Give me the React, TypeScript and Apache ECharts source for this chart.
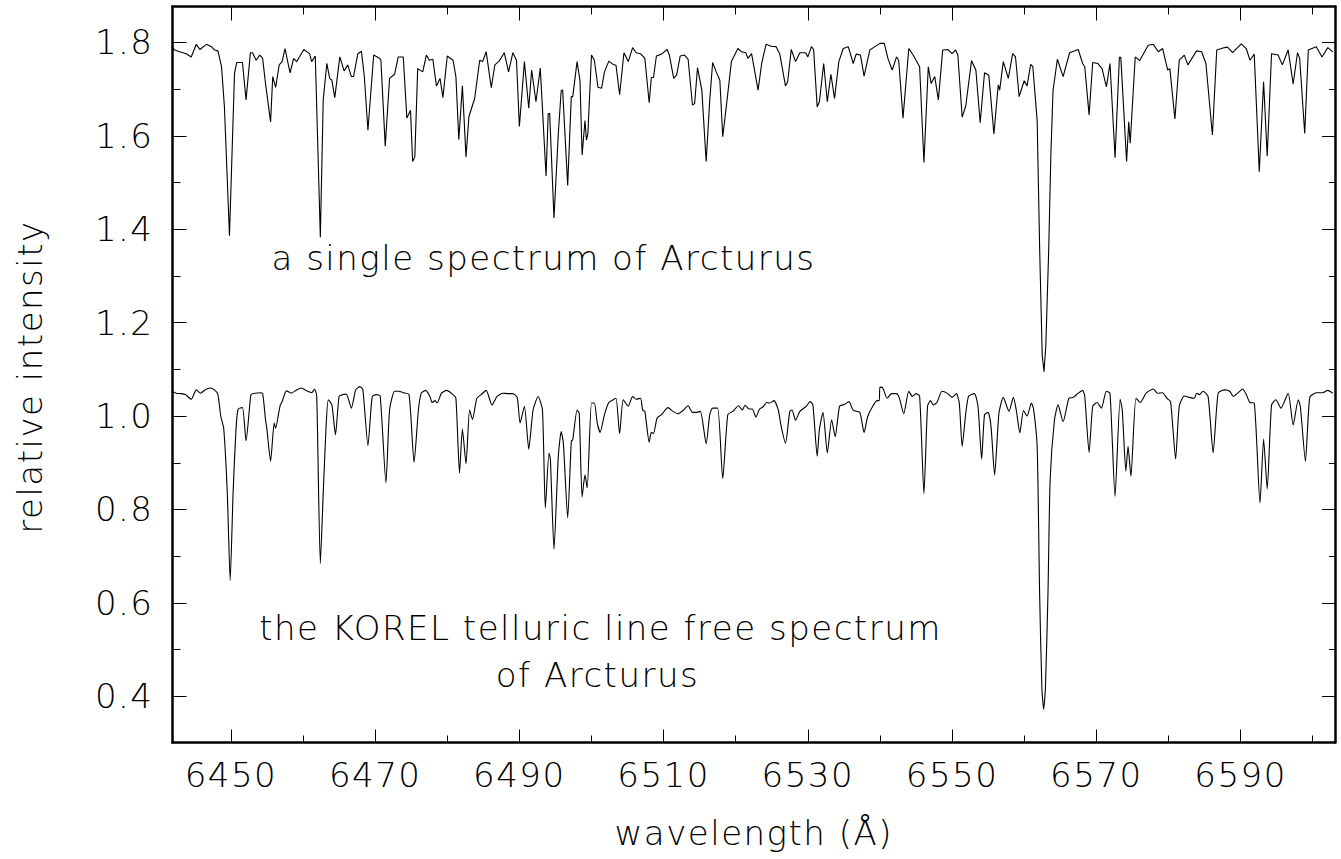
import React, { useEffect, useRef } from "react";
import * as echarts from "echarts";

// ---- data ----
const singleSpectrum: [number, number][] = [
  [6441.8, 1.791], [6442.2, 1.784], [6442.9, 1.78], [6443.8, 1.776], [6444.5, 1.769], [6445.2, 1.796],
  [6445.7, 1.785], [6446.6, 1.796], [6447.3, 1.791], [6447.7, 1.784], [6448.2, 1.782], [6448.7, 1.748],
  [6449.1, 1.662], [6449.8, 1.386], [6450.5, 1.734], [6450.8, 1.757], [6451.6, 1.757], [6452.1, 1.677],
  [6452.7, 1.778], [6453.0, 1.778], [6453.5, 1.762], [6454.0, 1.773], [6454.4, 1.766], [6454.8, 1.712],
  [6455.5, 1.63], [6455.8, 1.727], [6456.2, 1.704], [6456.7, 1.752], [6457.1, 1.759], [6457.5, 1.787],
  [6458.2, 1.735], [6458.7, 1.766], [6459.1, 1.759], [6459.5, 1.769], [6460.1, 1.785], [6460.9, 1.776],
  [6461.2, 1.759], [6461.7, 1.771], [6462.4, 1.383], [6462.8, 1.677], [6463.3, 1.755], [6463.7, 1.723],
  [6464.0, 1.719], [6464.4, 1.682], [6465.1, 1.769], [6465.7, 1.739], [6466.2, 1.752], [6466.7, 1.727],
  [6467.0, 1.727], [6467.6, 1.776], [6468.1, 1.781], [6468.5, 1.727], [6469.0, 1.612], [6469.8, 1.773],
  [6470.6, 1.766], [6470.8, 1.762], [6471.4, 1.578], [6472.0, 1.723], [6472.7, 1.732], [6473.2, 1.769],
  [6473.9, 1.769], [6474.4, 1.638], [6474.9, 1.655], [6475.2, 1.545], [6475.5, 1.555], [6475.9, 1.744],
  [6476.6, 1.737], [6477.1, 1.773], [6477.5, 1.762], [6478.0, 1.764], [6478.5, 1.707], [6479.0, 1.723],
  [6479.4, 1.682], [6480.0, 1.771], [6480.8, 1.762], [6481.2, 1.727], [6481.6, 1.592], [6482.1, 1.707],
  [6482.6, 1.555], [6483.0, 1.641], [6483.8, 1.68], [6484.5, 1.762], [6484.9, 1.759], [6485.4, 1.78],
  [6486.1, 1.703], [6486.6, 1.752], [6487.2, 1.76], [6487.9, 1.778], [6488.5, 1.737], [6489.1, 1.778],
  [6489.6, 1.762], [6490.0, 1.62], [6490.7, 1.759], [6491.3, 1.659], [6491.7, 1.741], [6492.3, 1.673],
  [6492.9, 1.745], [6493.7, 1.514], [6494.0, 1.648], [6494.2, 1.648], [6494.8, 1.424], [6495.4, 1.605],
  [6495.8, 1.697], [6496.0, 1.698], [6496.7, 1.494], [6497.2, 1.684], [6497.4, 1.684], [6498.0, 1.759],
  [6498.4, 1.719], [6498.7, 1.559], [6499.1, 1.633], [6499.3, 1.591], [6499.5, 1.605], [6500.0, 1.773],
  [6500.4, 1.762], [6500.9, 1.704], [6501.4, 1.702], [6501.8, 1.737], [6502.4, 1.76], [6503.0, 1.753],
  [6503.4, 1.751], [6503.9, 1.688], [6504.5, 1.778], [6505.1, 1.759], [6505.7, 1.789], [6506.2, 1.778],
  [6506.8, 1.776], [6507.4, 1.766], [6508.0, 1.671], [6508.3, 1.725], [6508.6, 1.725], [6509.0, 1.771],
  [6509.7, 1.775], [6510.5, 1.785], [6510.8, 1.773], [6511.4, 1.723], [6511.8, 1.73], [6512.3, 1.771],
  [6512.9, 1.773], [6513.4, 1.764], [6514.0, 1.666], [6514.3, 1.669], [6514.7, 1.746], [6515.3, 1.698],
  [6515.9, 1.545], [6516.4, 1.677], [6516.8, 1.757], [6517.3, 1.737], [6517.8, 1.719], [6518.2, 1.598],
  [6518.8, 1.677], [6519.4, 1.759], [6520.3, 1.787], [6520.8, 1.78], [6521.4, 1.778], [6521.7, 1.766],
  [6522.2, 1.776], [6523.1, 1.698], [6523.6, 1.755], [6524.2, 1.796], [6524.9, 1.792], [6525.6, 1.791],
  [6526.1, 1.776], [6526.9, 1.707], [6527.2, 1.716], [6527.7, 1.785], [6528.3, 1.759], [6528.9, 1.778],
  [6529.7, 1.778], [6530.0, 1.769], [6530.5, 1.791], [6530.8, 1.785], [6531.3, 1.662], [6531.6, 1.673],
  [6532.2, 1.755], [6532.7, 1.673], [6533.2, 1.732], [6533.7, 1.68], [6534.3, 1.759], [6534.9, 1.787],
  [6535.6, 1.791], [6536.3, 1.755], [6536.7, 1.775], [6537.3, 1.773], [6537.8, 1.728], [6538.6, 1.784],
  [6539.3, 1.791], [6540.0, 1.798], [6540.6, 1.798], [6541.1, 1.766], [6541.7, 1.741], [6542.3, 1.769],
  [6542.6, 1.762], [6543.2, 1.638], [6544.0, 1.787], [6544.6, 1.773], [6545.5, 1.748], [6546.1, 1.543],
  [6546.7, 1.748], [6547.1, 1.712], [6547.6, 1.727], [6548.1, 1.677], [6548.7, 1.784], [6549.4, 1.785],
  [6550.0, 1.776], [6550.5, 1.784], [6550.8, 1.773], [6551.4, 1.64], [6551.9, 1.664], [6552.7, 1.761],
  [6553.3, 1.741], [6553.9, 1.628], [6554.5, 1.735], [6555.1, 1.73], [6555.8, 1.604], [6556.4, 1.709],
  [6556.6, 1.698], [6557.1, 1.759], [6557.8, 1.723], [6558.4, 1.776], [6558.8, 1.769], [6559.3, 1.684],
  [6560.0, 1.718], [6560.4, 1.707], [6560.9, 1.753], [6561.2, 1.748], [6561.8, 1.632], [6562.15, 1.356],
  [6562.5, 1.13], [6562.75, 1.095], [6563.0, 1.15], [6563.4, 1.356], [6563.7, 1.56], [6564.0, 1.697],
  [6564.6, 1.764], [6565.4, 1.727], [6566.3, 1.778], [6567.5, 1.785], [6568.1, 1.755], [6568.4, 1.748],
  [6569.0, 1.645], [6569.5, 1.757], [6570.2, 1.755], [6570.8, 1.744], [6571.4, 1.705], [6571.9, 1.755],
  [6572.6, 1.553], [6573.2, 1.768], [6573.4, 1.768], [6574.2, 1.545], [6574.5, 1.63], [6574.7, 1.584],
  [6575.4, 1.769], [6576.0, 1.761], [6577.2, 1.794], [6577.9, 1.796], [6578.6, 1.78], [6579.2, 1.787],
  [6579.9, 1.741], [6580.2, 1.744], [6580.9, 1.636], [6581.5, 1.762], [6582.2, 1.773], [6582.7, 1.752],
  [6583.9, 1.782], [6584.6, 1.78], [6585.2, 1.755], [6586.1, 1.602], [6586.7, 1.784], [6587.8, 1.789],
  [6588.2, 1.79], [6588.9, 1.778], [6590.1, 1.797], [6590.8, 1.787], [6591.3, 1.762], [6591.9, 1.775],
  [6592.6, 1.523], [6593.2, 1.716], [6593.7, 1.557], [6594.3, 1.776], [6595.2, 1.773], [6595.8, 1.752],
  [6596.6, 1.784], [6597.3, 1.711], [6597.9, 1.778], [6598.2, 1.766], [6598.9, 1.605], [6599.4, 1.784],
  [6600.5, 1.791], [6601.3, 1.769], [6602.1, 1.789], [6602.8, 1.78],
];

const korelSpectrum: [number, number][] = [
  [6441.8, 1.053], [6442.4, 1.049], [6443.1, 1.048], [6443.7, 1.046], [6444.5, 1.036], [6445.2, 1.056],
  [6445.8, 1.049], [6446.4, 1.056], [6447.1, 1.06], [6447.8, 1.055], [6448.2, 1.046], [6448.6, 0.999],
  [6449.0, 0.974], [6449.5, 0.835], [6449.9, 0.648], [6450.3, 0.835], [6450.7, 0.971], [6451.0, 1.015],
  [6451.6, 1.018], [6452.1, 0.947], [6452.6, 1.021], [6452.8, 1.046], [6453.4, 1.049], [6454.0, 1.05],
  [6454.4, 1.048], [6454.8, 0.992], [6455.0, 0.971], [6455.5, 0.903], [6456.0, 0.985], [6456.2, 0.974],
  [6456.8, 1.021], [6457.1, 1.031], [6457.7, 1.054], [6458.4, 1.049], [6459.1, 1.056], [6459.8, 1.06],
  [6460.5, 1.054], [6461.2, 1.05], [6461.6, 1.058], [6461.9, 1.042], [6462.4, 0.684], [6462.8, 0.835],
  [6463.2, 0.978], [6463.5, 1.035], [6464.0, 1.024], [6464.5, 0.96], [6465.0, 1.042], [6465.5, 1.046],
  [6466.0, 1.047], [6466.7, 1.017], [6467.3, 1.056], [6467.9, 1.063], [6468.3, 1.056], [6469.0, 0.937],
  [6469.6, 1.042], [6470.2, 1.046], [6470.7, 1.043], [6471.5, 0.857], [6472.0, 1.013], [6472.7, 1.053],
  [6473.3, 1.053], [6473.9, 1.05], [6474.7, 1.046], [6475.4, 0.901], [6476.0, 1.013], [6476.4, 1.049],
  [6477.0, 1.055], [6477.6, 1.042], [6477.9, 1.029], [6478.3, 1.033], [6478.6, 1.028], [6479.2, 1.049],
  [6479.9, 1.055], [6480.8, 1.046], [6481.2, 1.038], [6481.7, 0.878], [6482.1, 0.972], [6482.6, 0.898],
  [6483.1, 1.013], [6483.5, 0.993], [6484.1, 1.038], [6484.7, 1.046], [6485.4, 1.055], [6486.2, 1.024],
  [6486.9, 1.042], [6487.7, 1.049], [6488.4, 1.048], [6489.1, 1.048], [6489.7, 1.04], [6490.1, 0.985],
  [6490.7, 1.021], [6491.3, 0.929], [6491.9, 1.013], [6492.6, 1.042], [6493.2, 1.013], [6493.6, 0.803],
  [6494.1, 0.921], [6494.3, 0.907], [6494.8, 0.715], [6495.4, 0.914], [6495.8, 0.967], [6496.1, 0.942],
  [6496.7, 0.782], [6497.2, 0.946], [6497.4, 0.949], [6498.0, 1.013], [6498.3, 1.006], [6498.7, 0.827],
  [6499.1, 0.874], [6499.4, 0.846], [6500.0, 1.028], [6500.4, 1.028], [6500.8, 0.985], [6501.2, 0.965],
  [6501.8, 1.003], [6502.4, 1.029], [6503.0, 1.035], [6503.4, 1.038], [6503.9, 0.962], [6504.4, 1.035],
  [6505.1, 1.021], [6505.7, 1.042], [6506.2, 1.036], [6506.8, 1.038], [6507.1, 1.013], [6507.4, 1.01],
  [6508.0, 0.944], [6508.3, 0.965], [6508.6, 0.963], [6509.1, 0.996], [6509.7, 1.003], [6510.6, 1.018],
  [6511.3, 1.01], [6512.0, 1.005], [6512.7, 1.012], [6513.4, 1.022], [6514.0, 1.008], [6514.6, 1.008],
  [6515.1, 1.01], [6515.9, 0.941], [6516.4, 1.003], [6516.8, 1.017], [6517.5, 1.017], [6518.2, 0.866],
  [6518.9, 1.003], [6519.6, 1.01], [6520.4, 1.022], [6520.9, 1.013], [6521.3, 1.023], [6521.9, 1.015],
  [6522.3, 1.015], [6522.8, 0.998], [6523.3, 1.015], [6523.8, 1.02], [6524.3, 1.029], [6524.7, 1.028],
  [6525.3, 1.033], [6525.9, 1.013], [6526.3, 0.978], [6526.9, 0.942], [6527.5, 1.01], [6527.8, 1.013],
  [6528.3, 0.991], [6528.9, 1.01], [6529.8, 1.021], [6530.3, 1.031], [6530.7, 1.024], [6531.3, 0.914],
  [6531.6, 0.971], [6532.1, 1.008], [6532.7, 0.921], [6533.3, 0.992], [6533.8, 0.956], [6534.4, 1.021],
  [6535.1, 1.025], [6535.7, 1.031], [6536.3, 1.012], [6537.2, 1.008], [6537.8, 0.965], [6538.3, 0.999],
  [6539.0, 1.021], [6539.6, 1.033], [6539.9, 1.033], [6540.0, 1.062], [6540.4, 1.06], [6541.0, 1.038],
  [6541.6, 1.048], [6542.3, 1.048], [6542.7, 1.038], [6543.3, 1.005], [6544.0, 1.053], [6544.5, 1.042],
  [6545.0, 1.048], [6545.5, 1.043], [6546.1, 0.834], [6546.6, 1.021], [6547.0, 1.033], [6547.4, 1.024],
  [6547.9, 1.029], [6548.6, 1.053], [6549.4, 1.048], [6550.0, 1.04], [6550.6, 1.048], [6551.0, 1.028],
  [6551.4, 0.935], [6551.9, 1.006], [6552.3, 1.043], [6553.1, 1.048], [6553.6, 1.02], [6554.1, 0.908],
  [6554.5, 1.003], [6555.0, 1.008], [6555.4, 0.978], [6555.9, 0.874], [6556.5, 1.006], [6557.1, 1.04],
  [6557.9, 1.01], [6558.5, 1.04], [6558.9, 1.013], [6559.4, 0.964], [6559.9, 1.012], [6560.4, 1.0],
  [6561.0, 1.028], [6561.3, 1.015], [6561.8, 0.935], [6562.14, 0.621], [6562.45, 0.42], [6562.7, 0.372],
  [6562.95, 0.42], [6563.3, 0.621], [6563.6, 0.864], [6564.2, 0.992], [6564.7, 1.024], [6565.4, 0.988],
  [6566.2, 1.038], [6566.8, 1.04], [6567.5, 1.049], [6568.1, 1.055], [6568.4, 1.042], [6569.0, 0.922],
  [6569.5, 1.021], [6570.1, 1.029], [6570.7, 1.017], [6571.4, 1.053], [6571.9, 1.049], [6572.6, 0.828],
  [6573.3, 1.036], [6573.6, 1.013], [6574.1, 0.882], [6574.4, 0.935], [6574.8, 0.871], [6575.5, 1.038],
  [6576.1, 1.029], [6576.9, 1.049], [6577.9, 1.058], [6578.5, 1.049], [6579.2, 1.05], [6579.8, 1.038],
  [6580.3, 1.031], [6581.0, 0.908], [6581.5, 1.021], [6582.2, 1.043], [6582.9, 1.04], [6583.6, 1.038],
  [6583.9, 1.049], [6584.3, 1.046], [6584.8, 1.053], [6585.5, 1.042], [6586.2, 0.921], [6586.9, 1.049],
  [6587.8, 1.056], [6588.5, 1.053], [6589.0, 1.042], [6589.6, 1.049], [6590.3, 1.058], [6590.8, 1.046],
  [6591.3, 1.029], [6591.9, 1.028], [6592.7, 0.814], [6593.2, 0.951], [6593.7, 0.844], [6594.3, 1.024],
  [6594.9, 1.035], [6595.6, 1.017], [6596.6, 1.049], [6597.3, 0.981], [6598.0, 1.035], [6598.3, 1.02],
  [6599.0, 0.903], [6599.6, 1.04], [6600.5, 1.05], [6601.4, 1.05], [6602.1, 1.055], [6602.8, 1.049],
];

const majorWavelengthTicks = [6450, 6470, 6490, 6510, 6530, 6550, 6570, 6590];
const minorWavelengthTicks = [6460, 6480, 6500, 6520, 6540, 6560, 6580, 6600];
const majorIntensityTicks = [0.4, 0.6, 0.8, 1.0, 1.2, 1.4, 1.6, 1.8];
const minorIntensityTicks = [0.5, 0.7, 0.9, 1.1, 1.3, 1.5, 1.7];

const wavelengthRange = [6441.9, 6603.1];
const intensityRange = [0.301, 1.877];

const xTitle = "wavelength (Å)";
const yTitle = "relative intensity";
const upperNote = "a single spectrum of Arcturus";
const lowerNoteLine1 = "the KOREL telluric line free spectrum";
const lowerNoteLine2 = "of Arcturus";

const FONT = "'DejaVu Sans', sans-serif";
const FONT_WEIGHT: any = 200;
const FONT_SIZE = 34;
const INK = "#000";

function makeXAxis(position: string, ticks: number[], len: number, line: boolean, labels: boolean) {
  return {
    type: "value",
    position,
    min: wavelengthRange[0],
    max: wavelengthRange[1],
    axisLine: { show: line, onZero: false, lineStyle: { color: INK, width: 2.5 } },
    axisTick: { show: true, inside: true, length: len, customValues: ticks, lineStyle: { color: INK, width: 1 } },
    axisLabel: {
      show: labels,
      customValues: ticks,
      margin: 15,
      color: INK,
      fontSize: FONT_SIZE,
      fontFamily: FONT,
      fontWeight: FONT_WEIGHT,
      formatter: (v: number) => String(Math.round(v)),
    },
    splitLine: { show: false },
  };
}

function makeYAxis(position: string, ticks: number[], len: number, line: boolean, labels: boolean) {
  return {
    type: "value",
    position,
    min: intensityRange[0],
    max: intensityRange[1],
    axisLine: { show: line, onZero: false, lineStyle: { color: INK, width: 2.5 } },
    axisTick: { show: true, inside: true, length: len, customValues: ticks, lineStyle: { color: INK, width: 1 } },
    axisLabel: {
      show: labels,
      customValues: ticks,
      margin: 19,
      color: INK,
      fontSize: FONT_SIZE,
      fontFamily: FONT,
      fontWeight: FONT_WEIGHT,
      formatter: (v: number) => v.toFixed(1),
    },
    splitLine: { show: false },
  };
}

export default function App() {
  const ref = useRef<HTMLDivElement>(null);

  useEffect(() => {
    document.body.style.margin = "0";
    if (!ref.current) return;
    const chart = echarts.init(ref.current, undefined, { renderer: "svg" });
    const textStyle = (text: string) => ({
      text,
      fill: INK,
      fontSize: FONT_SIZE,
      fontFamily: FONT,
      fontWeight: FONT_WEIGHT,
      align: "center",
      verticalAlign: "middle",
    });
    chart.setOption({
      animation: false,
      backgroundColor: "#fff",
      grid: { left: 172.5, right: 6, top: 6.5, bottom: 116.5, containLabel: false },
      xAxis: [
        makeXAxis("bottom", majorWavelengthTicks, 13, true, true),
        makeXAxis("bottom", minorWavelengthTicks, 7, false, false),
        makeXAxis("top", majorWavelengthTicks, 14, true, false),
        makeXAxis("top", minorWavelengthTicks, 8, false, false),
      ],
      yAxis: [
        makeYAxis("left", majorIntensityTicks, 14, true, true),
        makeYAxis("left", minorIntensityTicks, 8, false, false),
        makeYAxis("right", majorIntensityTicks, 13, true, false),
        makeYAxis("right", minorIntensityTicks, 6, false, false),
      ],
      series: [
        {
          name: "single",
          type: "line",
          xAxisIndex: 0,
          yAxisIndex: 0,
          data: singleSpectrum,
          showSymbol: false,
          symbol: "none",
          silent: true,
          lineStyle: { color: INK, width: 1.1 },
        },
        {
          name: "korel",
          type: "line",
          xAxisIndex: 0,
          yAxisIndex: 0,
          data: korelSpectrum,
          showSymbol: false,
          symbol: "none",
          silent: true,
          smooth: 0.2,
          lineStyle: { color: INK, width: 1.1 },
        },
      ],
      graphic: [
        { type: "text", x: 753.75, y: 833, style: textStyle(xTitle) },
        { type: "text", x: 30, y: 377, rotation: Math.PI / 2, style: textStyle(yTitle) },
        { type: "text", x: 543.5, y: 258, style: textStyle(upperNote) },
        { type: "text", x: 600.5, y: 628, style: textStyle(lowerNoteLine1) },
        { type: "text", x: 597.5, y: 675, style: textStyle(lowerNoteLine2) },
      ],
    });
    return () => chart.dispose();
  }, []);

  return (
    <>
      <style>{`#spectrum-chart text { letter-spacing: 1.5px; }`}</style>
      <div
        id="spectrum-chart"
        ref={ref}
        style={{ position: "absolute", left: 0, top: 0, width: 1341, height: 859, background: "#fff" }}
      />
    </>
  );
}
